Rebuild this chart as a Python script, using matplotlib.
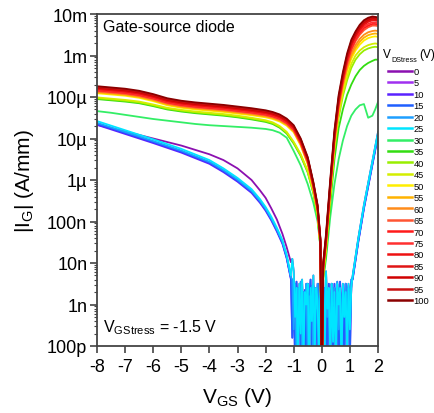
import numpy as np
import matplotlib
matplotlib.use("Agg")
import matplotlib.pyplot as plt
from matplotlib.ticker import FixedLocator, FixedFormatter, LogLocator, NullFormatter

plt.rcParams['font.family'] = ['Liberation Sans', 'DejaVu Sans']
plt.rcParams['mathtext.fontset'] = 'custom'
plt.rcParams['mathtext.rm'] = 'Liberation Sans'
plt.rcParams['mathtext.it'] = 'Liberation Sans:italic'

# ---------------- data (log10 of |I_G| in A/mm) ----------------
stress_levels = [0, 5, 10, 15, 20, 25, 30, 35, 40, 45, 50, 55, 60, 65, 70, 75, 80, 85, 90, 95, 100]
colors = ['#8B10B0', '#A030F0', '#5A22FF', '#1F5FFF', '#1E9FFF', '#00E5FF', '#33EE66',
          '#33DD11', '#99EE00', '#D4EE00', '#FFEE00', '#FFB300', '#FF8C1A', '#FF5533',
          '#FF1A1A', '#FF3030', '#EE1111', '#E01515', '#D00000', '#C81010', '#8B0000']

# low-stress (0-25 V) curves
low_rev_V = [-8, -7, -6, -5, -4, -3.5, -3, -2.5, -2.2, -2.0, -1.8, -1.6, -1.4, -1.25, -1.1]
low_rev_cyan = [-4.58, -4.80, -5.02, -5.25, -5.52, -5.72, -5.95, -6.22, -6.46, -6.65, -6.88, -7.15, -7.45, -7.80, -8.30]
low_rev_purple = [-4.67, -4.83, -5.00, -5.17, -5.38, -5.52, -5.72, -6.00, -6.25, -6.43, -6.68, -6.95, -7.30, -7.62, -7.98]
low_offsets = [0.0, -0.06, -0.09, -0.06, -0.04, 0.0]
low_fwd_V = [1.1, 1.2, 1.3, 1.4, 1.5, 1.6, 1.7, 1.8, 1.9, 2.0]
low_fwd = [-8.30, -7.85, -7.40, -7.00, -6.60, -6.25, -5.90, -5.55, -5.20, -4.85]

noise_a = [-8.4, -9.6, -8.5, -10.4, -8.6, -9.2, -8.45, -10.5, -8.7, -9.0, -8.5, -10.3, -8.8, -9.4,
           -8.55, -10.6, -8.6, -9.1, -8.5, -10.2, -8.7, -9.5, -8.6, -10.5, -8.5, -9.3, -8.75, -10.4,
           -8.5, -9.0, -8.6, -10.3, -8.45, -9.6, -8.7, -10.5, -8.55, -9.2, -8.5, -10.4, -8.6, -9.0, -8.4]
noise_b = [-9.8, -8.5, -10.5, -8.45, -9.1, -8.6, -10.3, -8.5, -9.5, -8.65, -10.6, -8.5, -9.0, -8.4,
           -10.4, -8.55, -9.7, -8.7, -10.5, -8.5, -9.2, -8.45, -10.3, -8.6, -8.9, -10.5, -8.5, -9.4,
           -8.65, -10.2, -8.5, -9.8, -8.6, -10.6, -8.45, -9.1, -8.7, -10.4, -8.5, -9.5, -8.55, -10.3, -8.5]
noise_c = [-7.9, -8.2, -9.3, -8.6, -10.5, -8.5, -9.7, -8.4, -10.4, -8.7, -9.0, -8.5, -10.6, -8.6,
           -9.4, -8.3, -10.2, -8.6, -8.9, -10.5, -8.5, -9.6, -8.4, -10.3, -8.2, -9.1, -8.6, -10.4,
           -8.5, -9.9, -8.7, -10.5, -8.5, -9.0, -8.6, -10.6, -8.5, -9.3, -8.7, -10.2, -8.5, -9.6, -8.6]

# stressed (30-100 V) curves, reverse branch
rev_V = [-8, -7.5, -7, -6.5, -6, -5.5, -5, -4.5, -4, -3.5, -3, -2.5, -2, -1.75, -1.5, -1.25,
         -1.0, -0.75, -0.5, -0.3, -0.15, -0.05, 0.0]
rev_red = [-3.74, -3.77, -3.80, -3.85, -3.93, -4.03, -4.09, -4.13, -4.16, -4.19, -4.23, -4.27,
           -4.32, -4.36, -4.42, -4.52, -4.68, -5.00, -5.45, -6.05, -6.60, -7.40, -11.0]
rev_green = [-4.03, -4.06, -4.09, -4.13, -4.20, -4.28, -4.33, -4.37, -4.40, -4.43, -4.47, -4.52,
             -4.58, -4.63, -4.72, -4.86, -5.10, -5.40, -5.80, -6.30, -6.85, -7.60, -11.0]
rev_30 = [-4.34, -4.38, -4.43, -4.48, -4.53, -4.57, -4.61, -4.65, -4.68, -4.70, -4.72, -4.74,
          -4.77, -4.80, -4.86, -4.98, -5.30, -5.65, -6.10, -6.55, -7.00, -7.60, -11.0]
red_offsets = [-0.17, -0.15, -0.13, -0.12, -0.10, -0.09, -0.07, -0.05, -0.04, -0.02, 0.0]   # 50..100 V
green_offsets = [-0.02, 0.0, 0.02]                                                       # 35, 40, 45 V

# forward branch
fwd_V = [0.0, 0.05, 0.15, 0.3, 0.45, 0.6, 0.75, 0.9, 1.05, 1.2, 1.35, 1.5, 1.65, 1.8, 1.9, 2.0]
fwd_30 = [-11, -8.40, -7.90, -6.90, -6.10, -5.50, -5.05, -4.70, -4.45, -4.30, -4.20, -4.17, -4.50, -4.45, -4.30, -4.12]
fwd_35 = [-11, -8.35, -7.80, -6.60, -5.50, -4.75, -4.30, -3.95, -3.70, -3.50, -3.35, -3.25, -3.18, -3.13, -3.10, -3.10]
fwd_40 = [-11, -8.30, -7.70, -6.45, -5.28, -4.50, -3.98, -3.60, -3.30, -3.10, -2.97, -2.88, -2.83, -2.80, -2.79, -2.80]
fwd_45 = [-11, -8.25, -7.65, -6.38, -5.20, -4.42, -3.90, -3.50, -3.20, -3.00, -2.88, -2.80, -2.75, -2.72, -2.71, -2.72]
fwd_50 = [-11, -8.20, -7.60, -6.32, -5.13, -4.33, -3.80, -3.38, -3.08, -2.88, -2.74, -2.64, -2.58, -2.55, -2.54, -2.55]
fwd_55 = [-11, -8.20, -7.55, -6.30, -5.10, -4.30, -3.75, -3.32, -3.02, -2.82, -2.67, -2.57, -2.51, -2.48, -2.47, -2.48]
fwd_60 = [-11, -8.15, -7.55, -6.25, -5.07, -4.25, -3.70, -3.26, -2.95, -2.75, -2.60, -2.50, -2.44, -2.41, -2.40, -2.41]
fwd_65 = [-11, -8.15, -7.50, -6.22, -5.03, -4.20, -3.65, -3.20, -2.88, -2.66, -2.50, -2.39, -2.32, -2.28, -2.28, -2.29]
fwd_70 = [-11, -8.10, -7.50, -6.20, -5.00, -4.16, -3.61, -3.15, -2.83, -2.61, -2.45, -2.34, -2.28, -2.24, -2.24, -2.25]
fwd_75 = [-11, -8.10, -7.45, -6.18, -4.98, -4.13, -3.58, -3.12, -2.80, -2.58, -2.42, -2.30, -2.24, -2.20, -2.21, -2.22]
fwd_80 = [-11, -8.10, -7.45, -6.15, -4.95, -4.10, -3.55, -3.09, -2.76, -2.54, -2.38, -2.26, -2.19, -2.15, -2.16, -2.17]
fwd_85 = [-11, -8.05, -7.40, -6.12, -4.92, -4.08, -3.52, -3.06, -2.73, -2.51, -2.35, -2.23, -2.17, -2.13, -2.14, -2.15]
fwd_90 = [-11, -8.05, -7.40, -6.10, -4.90, -4.05, -3.50, -3.03, -2.70, -2.48, -2.32, -2.20, -2.14, -2.10, -2.11, -2.12]
fwd_95 = [-11, -8.00, -7.35, -6.05, -4.85, -4.00, -3.45, -3.00, -2.66, -2.45, -2.29, -2.18, -2.12, -2.08, -2.09, -2.10]
fwd_100 = [-11, -8.00, -7.30, -6.00, -4.80, -3.95, -3.40, -2.95, -2.62, -2.42, -2.26, -2.15, -2.09, -2.06, -2.07, -2.08]

y_ticks = [1e-10, 1e-9, 1e-8, 1e-7, 1e-6, 1e-5, 1e-4, 1e-3, 1e-2]
y_ticklabels = ['100p', '1n', '10n', '100n', '1µ', '10µ', '100µ', '1m', '10m']
x_ticks = [-8, -7, -6, -5, -4, -3, -2, -1, 0, 1, 2]

# ---------------- build curves ----------------
curves = []
noise_sets = [noise_c, noise_b, noise_a, noise_b, noise_a, noise_c]
for i in range(6):
    nz = noise_sets[i]
    nV = np.linspace(-1.05, 1.05, len(nz))
    base = low_rev_purple if i == 0 else low_rev_cyan
    V = np.concatenate([low_rev_V, nV, low_fwd_V])
    L = np.concatenate([np.array(base) + low_offsets[i], nz, np.array(low_fwd) + low_offsets[i]])
    curves.append((V, L))

fwd_list = [fwd_30, fwd_35, fwd_40, fwd_45, fwd_50, fwd_55, fwd_60, fwd_65, fwd_70,
            fwd_75, fwd_80, fwd_85, fwd_90, fwd_95, fwd_100]
for k, s in enumerate(stress_levels[6:]):
    if s == 30:
        rev = np.array(rev_30)
    elif s < 50:
        rev = np.array(rev_green) + green_offsets[(s - 35) // 5]
    else:
        rev = np.array(rev_red) + red_offsets[(s - 50) // 5]
    V = np.concatenate([rev_V, fwd_V[1:]])
    L = np.concatenate([rev, fwd_list[k][1:]])
    curves.append((V, L))

# ---------------- plot ----------------
W, H = 435, 414
fig = plt.figure(figsize=(W / 100, H / 100), dpi=100)
ax = fig.add_axes([97/W, 67/H, 281/W, 332/H])

for (V, L), c, s in zip(curves, colors, stress_levels):
    ax.plot(V, 10.0 ** L, color=c, lw=1.3, label=str(s))

ax.set_yscale('log')
ax.set_xlim(-8, 2)
ax.set_ylim(1e-10, 1e-2)
ax.yaxis.set_major_locator(FixedLocator(y_ticks))
ax.yaxis.set_major_formatter(FixedFormatter(y_ticklabels))
ax.yaxis.set_minor_locator(LogLocator(base=10, subs=np.arange(2, 10), numticks=20))
ax.yaxis.set_minor_formatter(NullFormatter())
ax.set_xticks(x_ticks)
ax.set_xticklabels([str(t) for t in x_ticks])

spine_c = '#444444'
for sp in ax.spines.values():
    sp.set_color(spine_c)
    sp.set_linewidth(1.3)
ax.tick_params(axis='both', which='major', direction='out', length=5, width=1.2,
               color=spine_c, labelsize=13)
ax.tick_params(axis='x', which='major', pad=4)
ax.tick_params(axis='y', which='major', pad=2)
ax.tick_params(axis='y', which='minor', direction='out', length=2.5, width=0.8, color=spine_c)
ax.tick_params(top=False, right=False)

ax.set_xlabel('V$_{\\mathrm{GS}}$ (V)', fontsize=15, labelpad=7)
ax.set_ylabel('|I$_{\\mathrm{G}}$| (A/mm)', fontsize=15, labelpad=8)

ax.text(0.022, 0.985, 'Gate-source diode', transform=ax.transAxes, fontsize=11.5,
        ha='left', va='top')
ax.text(0.022, 0.03, 'V$_{\\mathrm{GStress}}$ = -1.5 V', transform=ax.transAxes, fontsize=11.5,
        ha='left', va='bottom')

# legend title (outside axes, top right)
fig.text(383/W, 1 - 58/H, 'V', fontsize=8.5, ha='left', va='baseline')
fig.text(391/W, 1 - 62/H, 'DStress', fontsize=5.2, ha='left', va='baseline')
fig.text(419/W, 1 - 58/H, '(V)', fontsize=8.5, ha='left', va='baseline')

leg = fig.legend(loc='upper left', bbox_to_anchor=(388/W, 1 - 68/H),
                 bbox_transform=fig.transFigure, frameon=False, fontsize=6.7,
                 handlelength=2.6, handletextpad=0.12, labelspacing=0.265,
                 borderpad=0, borderaxespad=0)
for line in leg.get_lines():
    line.set_linewidth(1.8)

fig.savefig('out.png', dpi=100)
